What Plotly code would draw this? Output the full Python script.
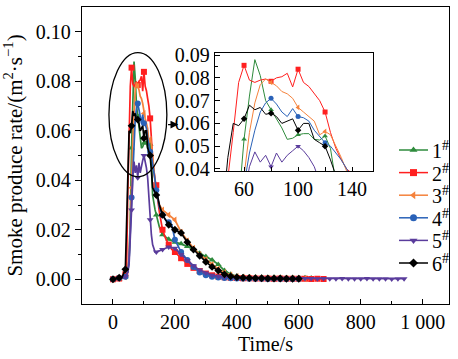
import plotly.graph_objects as go

# ---------------- data ----------------
time_s = [0, 10, 20, 30, 40,
          44, 48, 52, 56, 60, 64, 68, 72, 76, 80, 84, 88, 92, 96, 100,
          104, 108, 112, 116, 120, 124, 128, 132, 136, 140,
          145, 150, 160, 170, 180, 190, 200,
          220, 240, 260, 280, 300, 320, 340, 360, 380, 400, 420, 440, 460, 480,
          500, 520, 540, 560, 580, 600, 620, 640, 660, 680, 700, 720, 740, 760,
          780, 800, 820, 840, 860, 880, 900, 920, 940]

s1 = [0.0, 0.0006, 0.0002, 0.0008, 0.001,
      0.002, 0.003, 0.008, 0.025, 0.053, 0.072, 0.088, 0.081, 0.070, 0.066, 0.062, 0.058, 0.053, 0.0535, 0.055,
      0.0555, 0.0555, 0.053, 0.0527, 0.0545, 0.049, 0.034, 0.030, 0.028, 0.026,
      0.023, 0.021, 0.018, 0.017, 0.0162, 0.0156, 0.015,
      0.0143, 0.0132, 0.0121, 0.0105, 0.0092, 0.0078, 0.006, 0.0035, 0.002, 0.0012, 0.001, 0.0009, 0.0008,
      0.0008, 0.0007, 0.0008, 0.0007, 0.0006, 0.0007, 0.0006, 0.0006, 0.0005]

s2 = [0.0, 0.0004, 0.0003, 0.0006, 0.002,
      0.006, 0.036, 0.056, 0.078, 0.0855, 0.079, 0.078, 0.079, 0.0795, 0.0785, 0.080, 0.0805, 0.082, 0.076, 0.0838,
      0.078, 0.0762, 0.073, 0.070, 0.065, 0.056, 0.049, 0.044, 0.040, 0.038,
      0.033, 0.027, 0.020, 0.0165, 0.014, 0.012, 0.011,
      0.0085, 0.0062, 0.0046, 0.0033, 0.0023, 0.0016, 0.0011, 0.0008, 0.0006, 0.0005, 0.0004, 0.0004,
      0.0003, 0.0003, 0.0003, 0.0002, 0.0003, 0.0002, 0.0002, 0.0002, 0.0002, 0.0001, 0.0002, 0.0001]

s3 = [0.0, 0.0005, 0.0004, 0.0007, 0.001,
      0.002, 0.004, 0.010, 0.022, 0.037, 0.056, 0.069, 0.077, 0.0795, 0.078, 0.0765, 0.074, 0.073, 0.071, 0.067,
      0.065, 0.063, 0.061, 0.055, 0.0565, 0.055, 0.050, 0.045, 0.039, 0.034,
      0.032, 0.030, 0.028, 0.027, 0.026, 0.025, 0.024,
      0.019, 0.0155, 0.0125, 0.010, 0.008, 0.006, 0.0042, 0.0027, 0.0017, 0.0011, 0.0008, 0.0006,
      0.0005, 0.0004, 0.0004, 0.0003, 0.0003, 0.0003, 0.0002, 0.0002, 0.0002]

s4 = [0.0, 0.0003, 0.0005, 0.0006, 0.001,
      0.002, 0.003, 0.008, 0.020, 0.033, 0.047, 0.057, 0.065, 0.069, 0.071, 0.0685, 0.065, 0.063, 0.0665, 0.063,
      0.0625, 0.061, 0.057, 0.054, 0.0515, 0.050, 0.047, 0.044, 0.040, 0.036,
      0.033, 0.029, 0.026, 0.024, 0.023, 0.022, 0.016,
      0.011, 0.0078, 0.005, 0.0027, 0.0016, 0.001, 0.0007, 0.0005, 0.0004, 0.0003, 0.0003, 0.0002,
      0.0002, 0.0002, 0.0001, 0.0002, 0.0001, 0.0001, 0.0001, 0.0001]

s5 = [0.0, 0.0003, 0.0002, 0.0005, 0.001,
      0.002, 0.003, 0.006, 0.015, 0.028, 0.041, 0.0475, 0.043, 0.046, 0.041, 0.047, 0.043, 0.046, 0.048, 0.050,
      0.048, 0.045, 0.041, 0.033, 0.024, 0.018, 0.014, 0.012, 0.011, 0.011,
      0.0112, 0.0115, 0.012, 0.0125, 0.013, 0.0128, 0.0125,
      0.010, 0.0076, 0.0055, 0.0037, 0.0025, 0.0016, 0.0011, 0.0008, 0.0006, 0.0005, 0.0004, 0.0004,
      0.0003, 0.0004, 0.0003, 0.0003, 0.0004, 0.0003, 0.0003, 0.0002, 0.0003, 0.0003, 0.0002, 0.0003,
      0.0002, 0.0002, 0.0003, 0.0002, 0.0002, 0.0002, 0.0003, 0.0002, 0.0002, 0.0002, 0.0001, 0.0002, 0.0002]

s6 = [0.0, 0.0004, 0.0006, 0.001, 0.004,
      0.020, 0.045, 0.060, 0.059, 0.062, 0.068, 0.066, 0.067, 0.064, 0.0645, 0.063, 0.060, 0.061, 0.062, 0.057,
      0.060, 0.060, 0.053, 0.0515, 0.050, 0.044, 0.037, 0.036, 0.035, 0.034,
      0.033, 0.030, 0.026, 0.024, 0.022, 0.021, 0.020,
      0.0187, 0.015, 0.012, 0.0095, 0.007, 0.005, 0.0035, 0.002, 0.0012, 0.0008, 0.0006, 0.0005,
      0.0004, 0.0004, 0.0003, 0.0003, 0.0003, 0.0002, 0.0002, 0.0002]

series_names = ["1<sup>#</sup>", "2<sup>#</sup>", "3<sup>#</sup>",
                "4<sup>#</sup>", "5<sup>#</sup>", "6<sup>#</sup>"]
series_values = [s1, s2, s3, s4, s5, s6]
colors = ["#2e8b3c", "#ff1f1f", "#f5823c", "#2a62b8", "#5a3c9c", "#000000"]
symbols = ["triangle-up", "square", "triangle-left", "circle", "triangle-down", "diamond"]

x_tickvals = [0, 200, 400, 600, 800, 1000]
x_ticktext = ["0", "200", "400", "600", "800", "1 000"]

FONT = "Liberation Serif"

# plot area in pixels (left, right, top, bottom)
PL, PR, PT, PB = 82, 449, 7, 304
W, H = 458, 359

fig = go.Figure()

fig.add_shape(type="rect", xref="x2 domain", yref="y2 domain", x0=0, x1=1, y0=0, y1=1,
              fillcolor="white", line=dict(width=0), layer="below")

for name, vals, col, sym in zip(series_names, series_values, colors, symbols):
    t = time_s[:len(vals)]
    mt = [ti for ti in t if ti % 20 == 0]
    mv = [v for ti, v in zip(t, vals) if ti % 20 == 0]
    fig.add_trace(go.Scatter(x=t, y=vals, mode="lines", line=dict(color=col, width=1.7),
                             showlegend=False, xaxis="x", yaxis="y"))
    fig.add_trace(go.Scatter(x=mt, y=mv, mode="markers", marker=dict(color=col, symbol=sym, size=6),
                             showlegend=False, xaxis="x", yaxis="y"))
    fig.add_trace(go.Scatter(x=t, y=vals, mode="lines", line=dict(color=col, width=1.0),
                             showlegend=False, xaxis="x2", yaxis="y2"))
    fig.add_trace(go.Scatter(x=mt, y=mv, mode="markers", marker=dict(color=col, symbol=sym, size=5),
                             showlegend=False, xaxis="x2", yaxis="y2"))

# ---- hand-built legend on a pixel-coordinate overlay axis ----
leg_x0, leg_x1, leg_txt = 399, 428, 430
leg_y0, leg_dy = 150, 22.6
for i, (name, col, sym) in enumerate(zip(series_names, colors, symbols)):
    yy = leg_y0 + i * leg_dy
    fig.add_trace(go.Scatter(x=[leg_x0, leg_x1], y=[yy, yy], mode="lines",
                             line=dict(color=col, width=1.5), showlegend=False,
                             xaxis="x3", yaxis="y3", hoverinfo="skip"))
    fig.add_trace(go.Scatter(x=[(leg_x0 + leg_x1) / 2], y=[yy], mode="markers",
                             marker=dict(color=col, symbol=sym, size=7), showlegend=False,
                             xaxis="x3", yaxis="y3", hoverinfo="skip"))
    fig.add_annotation(x=leg_txt, y=yy, xref="x3", yref="y3", text=name, showarrow=False,
                       xanchor="left", yanchor="middle",
                       font=dict(family=FONT, size=20, color="black"))

# ellipse + arrow
fig.add_shape(type="circle", xref="x", yref="y", x0=-13, x1=174, y0=0.0414, y1=0.0916,
              line=dict(color="black", width=1.3))
fig.add_annotation(x=211, y=0.0625, ax=173, ay=0.0625, xref="x", yref="y", axref="x", ayref="y",
                   text="", showarrow=True, arrowhead=2, arrowsize=1.2, arrowwidth=1.3,
                   arrowcolor="black")

axis_common = dict(showline=True, linecolor="black", linewidth=1.3, mirror=True,
                   showgrid=False, zeroline=False, tickcolor="black", automargin=False,
                   tickfont=dict(family=FONT, size=20, color="black"))

fig.update_layout(
    width=W, height=H,
    margin=dict(l=PL, r=W - PR, t=PT, b=H - PB),
    paper_bgcolor="white", plot_bgcolor="white",
    font=dict(family=FONT, size=20, color="black"),
    showlegend=False,
    xaxis=dict(range=[-100, 1085], tickmode="array", tickvals=x_tickvals, ticktext=x_ticktext,
               ticks="inside", ticklen=5,
               minor=dict(tickmode="array", tickvals=[100, 300, 500, 700, 900],
                          ticks="inside", ticklen=3, tickcolor="black"),
               title=dict(text="Time/s", font=dict(family=FONT, size=20), standoff=2),
               **axis_common),
    yaxis=dict(range=[-0.01, 0.11], tickmode="array",
               tickvals=[0, 0.02, 0.04, 0.06, 0.08, 0.10],
               ticktext=["0.00", "0.02", "0.04", "0.06", "0.08", "0.10"],
               ticks="outside", ticklen=6,
               minor=dict(tickmode="array", tickvals=[0.01, 0.03, 0.05, 0.07, 0.09],
                          ticks="outside", ticklen=3, tickcolor="black"),
               title=dict(text="Smoke produce rate/(m<sup>2</sup>·s<sup>−1</sup>)",
                          font=dict(family=FONT, size=21), standoff=8),
               **axis_common),
    xaxis2=dict(domain=[0.3624, 0.793], anchor="y2", range=[38.5, 155.5],
                tickmode="array", tickvals=[60, 100, 140], ticks="inside", ticklen=4,
                minor=dict(tickmode="array", tickvals=[80, 120], ticks="inside", ticklen=4,
                           tickcolor="black"),
                **axis_common),
    yaxis2=dict(domain=[0.4478, 0.845], anchor="x2", range=[0.0391, 0.0909],
                tickmode="array", tickvals=[0.04, 0.05, 0.06, 0.07, 0.08, 0.09],
                ticktext=["0.04", "0.05", "0.06", "0.07", "0.08", "0.09"],
                ticks="inside", ticklen=5,
                minor=dict(tickmode="array", tickvals=[0.045, 0.055, 0.065, 0.075, 0.085],
                           ticks="inside", ticklen=3, tickcolor="black"),
                **axis_common),
    xaxis3=dict(overlaying="x", anchor="y3", range=[PL, PR], visible=False, fixedrange=True),
    yaxis3=dict(overlaying="y", anchor="x3", range=[PB, PT], visible=False, fixedrange=True),
)

fig.write_html("out.html", config={"displayModeBar": False},
               post_script="document.body.style.margin='0';")
